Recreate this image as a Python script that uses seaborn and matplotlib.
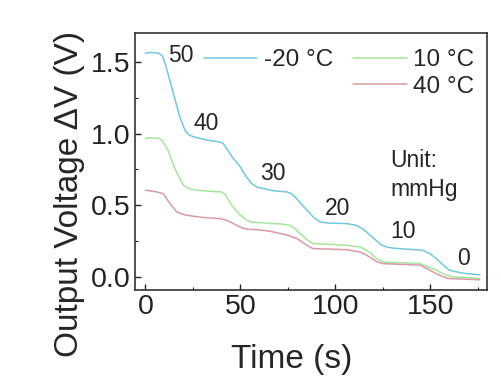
import seaborn as sns
import matplotlib.pyplot as plt
from matplotlib.lines import Line2D
from matplotlib.ticker import MultipleLocator

# -20 °C trace
blue_t = [0, 3, 7, 9, 11, 14.7, 18, 20.9, 23, 25.3, 32, 39.3, 41, 43, 46, 49.8, 53, 56, 59, 62, 68,
          74.4, 77, 80, 85, 89, 92, 96, 106, 111, 115, 120, 124, 127, 131, 140, 146, 150, 153, 157,
          160, 164, 168, 176]
blue_v = [1.56, 1.565, 1.56, 1.54, 1.46, 1.28, 1.12, 1.02, 0.99, 0.977, 0.955, 0.94, 0.93, 0.89,
          0.83, 0.77, 0.70, 0.65, 0.625, 0.617, 0.60, 0.593, 0.58, 0.54, 0.465, 0.41, 0.384, 0.376,
          0.372, 0.36, 0.33, 0.27, 0.225, 0.209, 0.20, 0.192, 0.186, 0.16, 0.128, 0.08, 0.047, 0.035,
          0.025, 0.015]

# 10 °C trace
green_t = [0, 3, 7, 9, 12, 16, 20, 23, 27, 33, 40, 42, 44, 46, 50, 53, 55, 58, 61, 67, 71, 76, 78,
           80, 85, 88, 92, 96, 106, 113, 116, 119, 122, 125, 130, 135, 144.6, 148, 153, 158, 162,
           170, 176]
green_v = [0.966, 0.97, 0.966, 0.95, 0.88, 0.74, 0.64, 0.615, 0.605, 0.598, 0.593, 0.575, 0.53,
           0.49, 0.43, 0.40, 0.384, 0.38, 0.378, 0.372, 0.37, 0.36, 0.345, 0.32, 0.26, 0.233, 0.23,
           0.228, 0.221, 0.209, 0.19, 0.16, 0.125, 0.105, 0.10, 0.10, 0.093, 0.075, 0.047, 0.015,
           0.0, -0.005, -0.01]

# 40 °C trace
red_t = [0, 6, 9.5, 13, 16.5, 19, 21.8, 30, 39.3, 42, 44.6, 48, 51.6, 55, 58.6, 65, 71, 75, 79.7,
         84, 88, 92, 96, 106, 113, 116, 119, 122, 125, 135, 144.6, 148, 153, 157, 160, 168, 176]
red_v = [0.605, 0.593, 0.58, 0.51, 0.454, 0.44, 0.43, 0.415, 0.407, 0.398, 0.384, 0.36, 0.338, 0.332,
         0.33, 0.32, 0.303, 0.29, 0.268, 0.23, 0.198, 0.196, 0.195, 0.19, 0.174, 0.155, 0.13, 0.105,
         0.093, 0.088, 0.082, 0.06, 0.023, 0.0, -0.011, -0.015, -0.02]

# pressure step labels (mmHg) and where they sit
step_labels = ["50", "40", "30", "20", "10", "0"]
step_t = [12, 25.3, 60.4, 94.6, 128.8, 163.9]
step_v = [1.547, 1.07, 0.72, 0.477, 0.314, 0.128]

sns.set_style("ticks")
plt.rcParams['font.family'] = ['Liberation Sans', 'DejaVu Sans']

fig = plt.figure(figsize=(5.01, 3.76), dpi=100)
ax = fig.add_axes([0.269, 0.229, 0.704, 0.683])

sns.lineplot(x=blue_t, y=blue_v, ax=ax, color="#72C8E2", lw=1.1, label="-20 °C")
sns.lineplot(x=green_t, y=green_v, ax=ax, color="#A6E69B", lw=1.1, label="10 °C")
sns.lineplot(x=red_t, y=red_v, ax=ax, color="#D89AA6", lw=1.1, label="40 °C")

for s, t, v in zip(step_labels, step_t, step_v):
    ax.text(t, v, s, fontsize=16.5, ha="left", va="center")
ax.text(128.8, 0.71, "Unit:\nmmHg", fontsize=16.5, ha="left", va="center", linespacing=1.3)

ax.set_xlim(-5.6, 180)
ax.set_ylim(-0.09, 1.70)
ax.xaxis.set_major_locator(MultipleLocator(50))
ax.xaxis.set_minor_locator(MultipleLocator(25))
ax.yaxis.set_major_locator(MultipleLocator(0.5))
ax.yaxis.set_minor_locator(MultipleLocator(0.25))
ax.tick_params(which="both", direction="in", top=False, right=False, labelsize=20.5, pad=3,
               colors="#222222")
ax.tick_params(which="major", length=4, width=1)
ax.tick_params(which="minor", length=2.5, width=0.8)
for sp in ax.spines.values():
    sp.set_color("#333333")
    sp.set_linewidth(1.2)

ax.set_xlabel("Time (s)", fontsize=24)
ax.set_ylabel("Output Voltage ΔV (V)", fontsize=24)
ax.xaxis.set_label_coords(0.444, -0.21)
ax.yaxis.set_label_coords(-0.141, 0.374)

h, lab = ax.get_legend_handles_labels()
blank = Line2D([], [], color="none")
ax.legend([h[0], blank, h[1], h[2]], [lab[0], "", lab[1], lab[2]], ncol=2, frameon=False,
          fontsize=17.5, handlelength=2.2, handletextpad=0.27, columnspacing=0.82, labelspacing=0.2,
          borderpad=0, borderaxespad=0, loc="upper left", bbox_to_anchor=(0.196, 0.938))

fig.savefig("out.png", dpi=100)
